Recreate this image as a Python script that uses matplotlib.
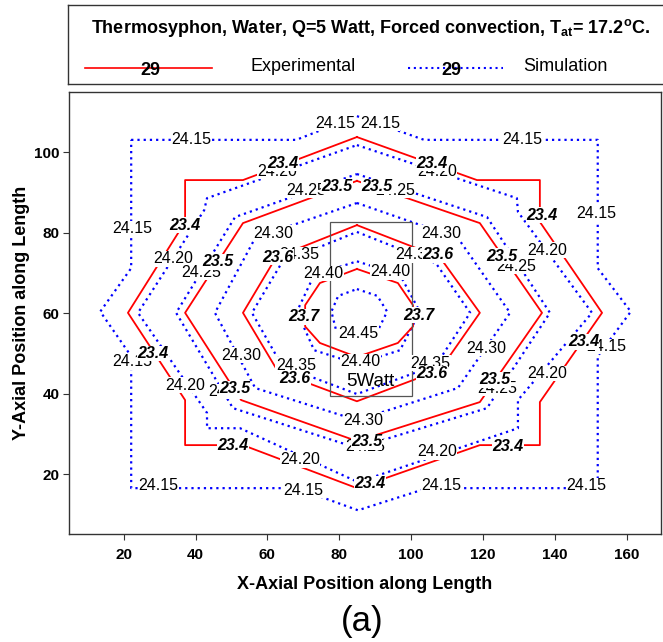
import numpy as np
import matplotlib
matplotlib.use('Agg')
import matplotlib.pyplot as plt
from matplotlib.patches import Rectangle

plt.rcParams['font.family'] = ['Liberation Sans', 'DejaVu Sans']
plt.rcParams['mathtext.fontset'] = 'custom'
plt.rcParams['mathtext.rm'] = 'Liberation Sans:bold'
plt.rcParams['mathtext.bf'] = 'Liberation Sans:bold'

#---------------------------------experimental isotherms (red)---------------------------------
e234_x = [84.9, 118.3, 135.8, 135.8, 153.1, 135.8, 135.8, 119.1, 84.9, 53.2, 37.1, 37.1, 21.2, 37.1, 37.1, 53.2, 84.9]
e234_y = [103.8, 93.1, 93.1, 82.7, 60.1, 37.9, 27.2, 27.2, 16.5, 27.2, 27.2, 38.4, 60.1, 82.7, 93.1, 93.1, 103.8]
e235_x = [84.9, 119.1, 136.4, 119.1, 84.9, 52.7, 37.1, 53.2, 84.9]
e235_y = [92.9, 82.4, 60.1, 37.9, 28.2, 38.4, 60.1, 82.4, 92.9]
e236_x = [84.9, 108.0, 119.1, 108.0, 84.9, 63.0, 53.2, 62.4, 84.9]
e236_y = [81.9, 73.9, 60.1, 45.9, 38.1, 45.4, 60.1, 73.9, 81.9]
e237_x = [84.9, 96.3, 100.5, 100.5, 96.3, 84.9, 74.6, 70.5, 70.5, 74.6, 84.9]
e237_y = [71.0, 67.5, 62.0, 56.7, 52.6, 49.1, 52.6, 56.7, 62.0, 67.5, 71.0]

#---------------------------------simulated isotherms (blue)---------------------------------
s2415_x = [22.1, 68.0, 84.9, 103.6, 151.9, 151.9, 161.1, 151.9, 151.9, 104.5, 85.2, 68.2, 22.1, 22.1, 13.5, 22.1, 22.1]
s2415_y = [103.1, 103.1, 109.0, 103.1, 103.1, 71.2, 60.4, 49.3, 16.5, 16.5, 11.0, 16.5, 16.5, 49.3, 60.4, 71.2, 103.1]
s2420_x = [84.9, 129.4, 129.7, 150.3, 129.7, 129.7, 85.2, 52.4, 43.2, 43.2, 24.0, 42.4, 43.2, 84.9]
s2420_y = [101.8, 88.6, 85.2, 60.1, 38.4, 31.4, 18.0, 31.4, 31.4, 35.2, 60.1, 85.6, 88.6, 101.8]
s2425_x = [84.9, 121.1, 138.6, 121.1, 84.9, 50.4, 34.6, 51.0, 84.9]
s2425_y = [94.6, 83.9, 60.1, 36.4, 26.5, 36.4, 60.1, 83.9, 94.6]
s2430_x = [84.9, 113.0, 127.5, 113.0, 84.9, 56.6, 45.4, 56.6, 84.9]
s2430_y = [87.4, 78.7, 60.1, 41.4, 33.4, 41.4, 60.1, 78.7, 87.4]
s2435_x = [84.9, 106.9, 116.4, 106.9, 84.9, 64.1, 55.7, 64.1, 84.9]
s2435_y = [80.2, 72.4, 60.1, 47.1, 39.9, 46.9, 60.1, 72.7, 80.2]
s2440_x = [84.9, 96.9, 102.4, 96.9, 84.9, 73.0, 68.2, 73.0, 84.9]
s2440_y = [72.9, 69.5, 60.4, 50.8, 47.4, 50.8, 60.4, 69.5, 72.9]
s2445_x = [84.9, 90.6, 93.3, 90.8, 84.9, 79.1, 77.8, 79.7, 84.9]
s2445_y = [66.0, 64.3, 60.4, 55.8, 54.3, 55.8, 60.4, 64.3, 66.0]

#---------------------------------contour labels---------------------------------
sim_lbl = ['24.15'] * 12 + ['24.20'] * 8 + ['24.25'] * 7 + ['24.30'] * 5 + ['24.35'] * 4 + ['24.40'] * 3 + ['24.45']
sim_lbl_x = [38.9, 78.8, 91.3, 131.0, 151.6, 22.3, 22.3, 154.4, 29.7, 70.0, 108.5, 148.8,
             62.6, 107.1, 33.8, 137.7, 37.0, 137.8, 69.1, 107.1,
             70.9, 95.5, 41.6, 129.3, 49.1, 123.8, 87.2,
             61.7, 108.5, 52.8, 120.8, 86.7,
             68.8, 101.2, 67.9, 105.4,
             75.6, 94.1, 85.8,
             85.3]
sim_lbl_y = [103.1, 107.2, 107.2, 103.1, 84.8, 81.1, 47.9, 51.7, 17.1, 16.0, 17.1, 17.1,
             95.3, 95.3, 73.5, 75.7, 42.1, 45.0, 23.5, 25.5,
             90.6, 90.6, 70.1, 71.7, 40.5, 41.3, 26.8,
             79.9, 79.9, 49.6, 51.3, 33.4,
             74.5, 74.5, 47.1, 47.6,
             69.9, 70.3, 47.9,
             55.0]

exp_lbl = ['23.4'] * 9 + ['23.5'] * 7 + ['23.6'] * 4 + ['23.7'] * 2
exp_lbl_x = [64.3, 105.7, 37.0, 136.3, 28.2, 147.9, 50.5, 88.5, 127.0,
             79.3, 90.4, 46.3, 125.2, 50.9, 123.3, 87.6,
             63.0, 107.5, 67.7, 105.7,
             70.0, 102.0]
exp_lbl_y = [97.3, 97.3, 81.9, 84.4, 50.0, 52.9, 27.0, 17.7, 26.8,
             91.5, 91.5, 72.8, 74.2, 41.3, 43.4, 28.0,
             73.9, 74.5, 43.8, 45.0,
             59.1, 59.5]

# heater block
heater_x = [77.4, 100.3]
heater_y = [39.4, 82.8]

red = '#ff0000'
blue = '#0000ff'
dots = (0, (1, 1.8))

fig = plt.figure(figsize=(6.63, 6.42), dpi=100)

#---------------------------------title / legend box---------------------------------
tb = fig.add_axes([68 / 663, 1 - 84 / 642, 594 / 663, 79 / 642])
tb.set_xlim(0, 1)
tb.set_ylim(0, 1)
tb.set_xticks([])
tb.set_yticks([])
tb.spines['right'].set_visible(False)
for s in ['left', 'top', 'bottom']:
    tb.spines[s].set_color('#333333')
    tb.spines[s].set_linewidth(1.0)
tb.text(0.51, 0.71, r'Thermosyphon, Water, Q=5 Watt, Forced convection, T$_{\mathbf{at}}$= 17.2$^{\mathbf{o}}$C.',
        ha='center', va='center', fontsize=13, fontweight='bold')
tb.plot([0.029, 0.243], [0.2, 0.2], color=red, lw=1.2)
tb.text(0.138, 0.17, '29', ha='center', va='center', fontsize=13, fontweight='bold')
tb.text(0.396, 0.22, 'Experimental', ha='center', va='center', fontsize=13)
tb.plot([0.572, 0.732], [0.2, 0.2], color=blue, lw=1.5, ls=dots)
tb.text(0.645, 0.17, '29', ha='center', va='center', fontsize=13, fontweight='bold')
tb.text(0.837, 0.22, 'Simulation', ha='center', va='center', fontsize=13)

#---------------------------------main contour plot---------------------------------
ax = fig.add_axes([69 / 663, 1 - 534 / 642, 592 / 663, 442 / 642])

for xs, ys in [(s2415_x, s2415_y), (s2420_x, s2420_y), (s2425_x, s2425_y), (s2430_x, s2430_y),
               (s2435_x, s2435_y), (s2440_x, s2440_y), (s2445_x, s2445_y)]:
    ax.plot(xs, ys, color=blue, lw=1.6, ls=dots, zorder=2)
for xs, ys in [(e234_x, e234_y), (e235_x, e235_y), (e236_x, e236_y), (e237_x, e237_y)]:
    ax.plot(xs, ys, color=red, lw=1.3, zorder=3)

ax.add_patch(Rectangle((heater_x[0], heater_y[0]), heater_x[1] - heater_x[0], heater_y[1] - heater_y[0],
                       fill=False, ec='#555555', lw=0.9, zorder=4))

box = dict(fc='white', ec='none', pad=0.2)
for t, x, y in zip(sim_lbl, sim_lbl_x, sim_lbl_y):
    ax.text(x, y, t, ha='center', va='center', fontsize=11.5, bbox=box, zorder=5)
for t, x, y in zip(exp_lbl, exp_lbl_x, exp_lbl_y):
    ax.text(x, y, t, ha='center', va='center', fontsize=11.5, fontweight='bold', style='italic',
            bbox=box, zorder=6)
ax.text(88.5, 43.0, '5Watt', ha='center', va='center', fontsize=13.5, zorder=7)

ax.set_xlim(4.8, 169.5)
ax.set_ylim(5.1, 115.0)
ax.set_xticks(np.arange(20, 161, 20))
ax.set_yticks(np.arange(20, 101, 20))
ax.tick_params(direction='out', length=4, width=0.8, color='#333333', labelsize=11, pad=6)
ax.tick_params(axis='y', pad=3)
for lab in ax.get_xticklabels() + ax.get_yticklabels():
    lab.set_fontweight('bold')
for s in ax.spines.values():
    s.set_color('#333333')
    s.set_linewidth(1.0)

ax.set_xlabel('X-Axial Position along Length', fontsize=13, fontweight='bold')
ax.set_ylabel('Y-Axial Position along Length', fontsize=13, fontweight='bold')
ax.xaxis.set_label_coords(0.5, -0.094)
ax.yaxis.set_label_coords(-0.066, 0.5)

fig.text(362 / 663, 1 - 621 / 642, '(a)', ha='center', va='center', fontsize=25)

plt.savefig('out.png', dpi=100)
